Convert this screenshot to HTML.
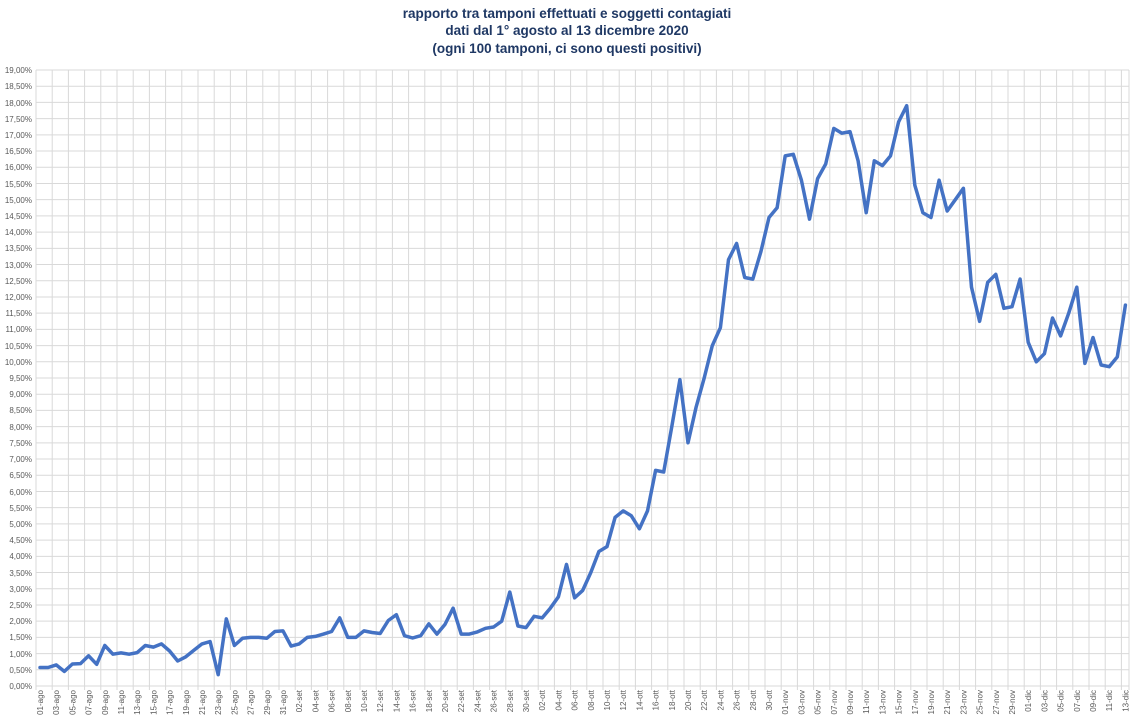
<!DOCTYPE html>
<html><head><meta charset="utf-8"><style>
html,body{margin:0;padding:0;background:#fff;width:1135px;height:716px;overflow:hidden}
svg{display:block}
.t{font-family:"Liberation Sans",sans-serif;font-weight:bold;font-size:13.5px;fill:#1f3864;text-anchor:middle}
.y text{font-family:"Liberation Sans",sans-serif;font-size:8px;fill:#595959;text-anchor:end}
.x text{font-family:"Liberation Sans",sans-serif;font-size:8px;fill:#595959;text-anchor:end}
</style></head><body>
<svg width="1135" height="716" viewBox="0 0 1135 716" xmlns="http://www.w3.org/2000/svg">
<text class="t" x="567" y="18">rapporto tra tamponi effettuati e soggetti contagiati</text>
<text class="t" x="567" y="35">dati dal 1° agosto al 13 dicembre 2020</text>
<text class="t" x="567" y="53">(ogni 100 tamponi, ci sono questi positivi)</text>
<g id="grid" stroke="#d9d9d9" stroke-width="1"></g>
<g class="y">
<text x="32" y="689">0,00%</text><text x="32" y="673">0,50%</text><text x="32" y="657">1,00%</text><text x="32" y="640">1,50%</text><text x="32" y="624">2,00%</text><text x="32" y="608">2,50%</text><text x="32" y="592">3,00%</text><text x="32" y="576">3,50%</text><text x="32" y="559">4,00%</text><text x="32" y="543">4,50%</text><text x="32" y="527">5,00%</text><text x="32" y="511">5,50%</text><text x="32" y="495">6,00%</text><text x="32" y="478">6,50%</text><text x="32" y="462">7,00%</text><text x="32" y="446">7,50%</text><text x="32" y="430">8,00%</text><text x="32" y="413">8,50%</text><text x="32" y="397">9,00%</text><text x="32" y="381">9,50%</text><text x="32" y="365">10,00%</text><text x="32" y="349">10,50%</text><text x="32" y="332">11,00%</text><text x="32" y="316">11,50%</text><text x="32" y="300">12,00%</text><text x="32" y="284">12,50%</text><text x="32" y="268">13,00%</text><text x="32" y="251">13,50%</text><text x="32" y="235">14,00%</text><text x="32" y="219">14,50%</text><text x="32" y="203">15,00%</text><text x="32" y="187">15,50%</text><text x="32" y="170">16,00%</text><text x="32" y="154">16,50%</text><text x="32" y="138">17,00%</text><text x="32" y="122">17,50%</text><text x="32" y="106">18,00%</text><text x="32" y="89">18,50%</text><text x="32" y="73">19,00%</text>
</g>
<g class="x" id="xl">
<text>01-ago</text><text>03-ago</text><text>05-ago</text><text>07-ago</text><text>09-ago</text><text>11-ago</text><text>13-ago</text><text>15-ago</text><text>17-ago</text><text>19-ago</text><text>21-ago</text><text>23-ago</text><text>25-ago</text><text>27-ago</text><text>29-ago</text><text>31-ago</text>
<text>02-set</text><text>04-set</text><text>06-set</text><text>08-set</text><text>10-set</text><text>12-set</text><text>14-set</text><text>16-set</text><text>18-set</text><text>20-set</text><text>22-set</text><text>24-set</text><text>26-set</text><text>28-set</text><text>30-set</text>
<text>02-ott</text><text>04-ott</text><text>06-ott</text><text>08-ott</text><text>10-ott</text><text>12-ott</text><text>14-ott</text><text>16-ott</text><text>18-ott</text><text>20-ott</text><text>22-ott</text><text>24-ott</text><text>26-ott</text><text>28-ott</text><text>30-ott</text>
<text>01-nov</text><text>03-nov</text><text>05-nov</text><text>07-nov</text><text>09-nov</text><text>11-nov</text><text>13-nov</text><text>15-nov</text><text>17-nov</text><text>19-nov</text><text>21-nov</text><text>23-nov</text><text>25-nov</text><text>27-nov</text><text>29-nov</text>
<text>01-dic</text><text>03-dic</text><text>05-dic</text><text>07-dic</text><text>09-dic</text><text>11-dic</text><text>13-dic</text>
</g>
<polyline id="ln" fill="none" stroke="#4472c4" stroke-width="3.5" stroke-linejoin="round" stroke-linecap="round"/>
</svg>
<script>
var NS="http://www.w3.org/2000/svg",g=document.getElementById("grid");
function L(x1,y1,x2,y2){var l=document.createElementNS(NS,"line");l.setAttribute("x1",x1);l.setAttribute("y1",y1);l.setAttribute("x2",x2);l.setAttribute("y2",y2);g.appendChild(l);}
for(var k=0;k<=38;k++){var y=686-k*616/38;L(36,y,1129,y);}
for(var j=0;j<=68;j++){var x=36+j*16.2;if(x>1130)x=1129;L(x,70,x,690);}
var d=[0.57,0.57,0.65,0.45,0.68,0.69,0.93,0.67,1.25,0.98,1.02,0.98,1.03,1.25,1.2,1.3,1.08,0.77,0.9,1.1,1.3,1.37,0.35,2.07,1.25,1.47,1.5,1.5,1.47,1.68,1.7,
1.23,1.3,1.5,1.53,1.6,1.68,2.1,1.5,1.5,1.7,1.65,1.62,2.02,2.2,1.55,1.48,1.55,1.92,1.6,1.9,2.4,1.6,1.6,1.67,1.78,1.82,2.0,2.9,1.85,1.8,
2.15,2.1,2.4,2.75,3.75,2.72,2.95,3.5,4.15,4.3,5.2,5.4,5.25,4.85,5.4,6.65,6.6,8.0,9.45,7.5,8.6,9.5,10.5,11.05,13.15,13.65,12.6,12.55,13.4,14.45,14.75,
16.35,16.4,15.6,14.4,15.65,16.1,17.2,17.05,17.1,16.2,14.6,16.2,16.05,16.35,17.4,17.9,15.45,14.6,14.45,15.6,14.65,15.0,15.35,12.3,11.25,12.45,12.7,11.65,11.7,12.55,
10.6,10.0,10.25,11.35,10.8,11.5,12.3,9.95,10.75,9.9,9.85,10.15,11.75];
var p=[];for(var i=0;i<d.length;i++){p.push((40+i*8.1).toFixed(1)+","+(686-d[i]*616/19).toFixed(1));}
document.getElementById("ln").setAttribute("points",p.join(" "));
var t=document.getElementById("xl").children;
for(var i=0;i<t.length;i++){var x=40+i*16.2+3;t[i].setAttribute("transform","translate("+x+",690) rotate(-90)");}
</script>
</body></html>
